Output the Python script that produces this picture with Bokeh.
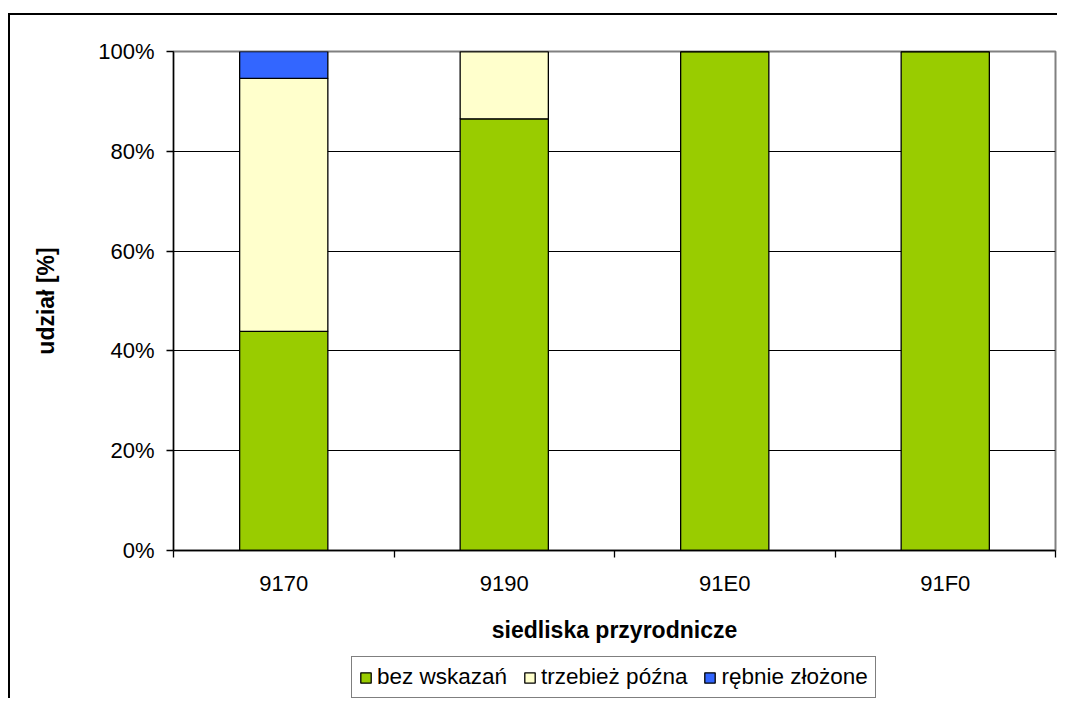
from bokeh.plotting import figure
from bokeh.layouts import column
from bokeh.models import (ColumnDataSource, FixedTicker, PrintfTickFormatter, Legend,
                          LegendItem, Range1d, InlineStyleSheet)
from bokeh.embed import file_html
from bokeh.resources import INLINE

categories = ["9170", "9190", "91E0", "91F0"]
bez_wskazan = [43.9, 86.5, 100.0, 100.0]
trzebiez_pozna = [50.7, 13.5, 0.0, 0.0]
rebnie_zlozone = [5.4, 0.0, 0.0, 0.0]
series_names = ["bez wskazań", "trzebież późna", "rębnie złożone"]
colors = ["#99CC00", "#FFFFCC", "#3366FF"]
y_ticks = [0, 20, 40, 60, 80, 100]

xpos = [i + 0.5 for i in range(len(categories))]
src = ColumnDataSource(dict(x=xpos, a=bez_wskazan, b=trzebiez_pozna, c=rebnie_zlozone))

W = 1057
H_MAIN = 650
H_LEG = 48
FONT = "Liberation Sans"

p = figure(width=W, height=H_MAIN, output_backend="svg", toolbar_location=None,
           x_range=Range1d(0, len(categories)), y_range=Range1d(0, 100),
           min_border_left=173, min_border_right=2, min_border_top=51, min_border_bottom=100)

p.vbar_stack(["a", "b", "c"], x="x", width=0.4, source=src, fill_color=colors,
             line_color="black", line_width=1.3)

# axes
p.xaxis.ticker = FixedTicker(ticks=xpos, minor_ticks=list(range(len(categories) + 1)))
p.xaxis.major_label_overrides = {x: c for x, c in zip(xpos, categories)}
p.xaxis.major_tick_out = 0
p.xaxis.major_tick_in = 0
p.xaxis.minor_tick_out = 7
p.xaxis.minor_tick_in = 0
p.xaxis.minor_tick_line_color = "black"
p.xaxis.minor_tick_line_width = 1.3
p.yaxis.ticker = FixedTicker(ticks=y_ticks, minor_ticks=[])
p.yaxis.formatter = PrintfTickFormatter(format="%d%%")
p.yaxis.major_tick_out = 7
p.yaxis.major_tick_in = 0
for ax in (p.xaxis, p.yaxis):
    ax.axis_line_color = "black"
    ax.axis_line_width = 1.3
    ax.major_tick_line_color = "black"
    ax.major_tick_line_width = 1.3
    ax.major_label_text_font = FONT
    ax.major_label_text_font_size = "22px"
    ax.major_label_text_color = "black"
    ax.axis_label_text_font = FONT
    ax.axis_label_text_font_style = "bold"
    ax.axis_label_text_font_size = "23px"
    ax.axis_label_text_color = "black"
p.xaxis.axis_label = "siedliska przyrodnicze"
p.yaxis.axis_label = "udział [%]"
p.xaxis.major_label_standoff = 13
p.xaxis.axis_label_standoff = 18
p.yaxis.major_label_standoff = 12
p.yaxis.axis_label_standoff = 36

p.xgrid.visible = False
p.ygrid.ticker = FixedTicker(ticks=y_ticks[1:-1])
p.ygrid.grid_line_color = "black"
p.ygrid.grid_line_width = 1

p.outline_line_color = "#808080"
p.outline_line_width = 2

# legend strip below the chart (its renderers use the same data but are hidden)
lg = figure(width=W, height=H_LEG, output_backend="svg", toolbar_location=None,
            x_range=Range1d(0, len(categories)), y_range=Range1d(0, 100), min_border=0,
            x_axis_location=None, y_axis_location=None)
lg.grid.visible = False
lg.outline_line_color = None
leg_renderers = []
for col, c in zip(["a", "b", "c"], colors):
    r = lg.vbar(x="x", top=col, width=0.4, source=src, fill_color=c,
                line_color="black", line_width=1.3)
    r.visible = False
    leg_renderers.append(r)
legend = Legend(items=[LegendItem(label=n, renderers=[r], index=0)
                       for n, r in zip(series_names, leg_renderers)],
                orientation="horizontal", location=(178, 0),
                label_text_font=FONT, label_text_font_size="22.5px", label_text_color="black",
                glyph_width=13, glyph_height=13, label_standoff=5, spacing=16,
                padding=7, margin=0, border_line_color="black", border_line_width=1.3,
                background_fill_alpha=1, inactive_fill_alpha=0)
lg.add_layout(legend, "center")

layout = column(p, lg, spacing=0)
# outer chart border (cut off at the right and bottom, as in the original)
layout.stylesheets = [InlineStyleSheet(css="""
:host { position: relative; }
:host::after { content: ''; position: absolute; left: 8px; top: 13px; right: 0; bottom: 0;
  border-left: 2px solid black; border-top: 2px solid black; pointer-events: none; }
""")]

open("out.html", "w").write(file_html(layout, INLINE))
